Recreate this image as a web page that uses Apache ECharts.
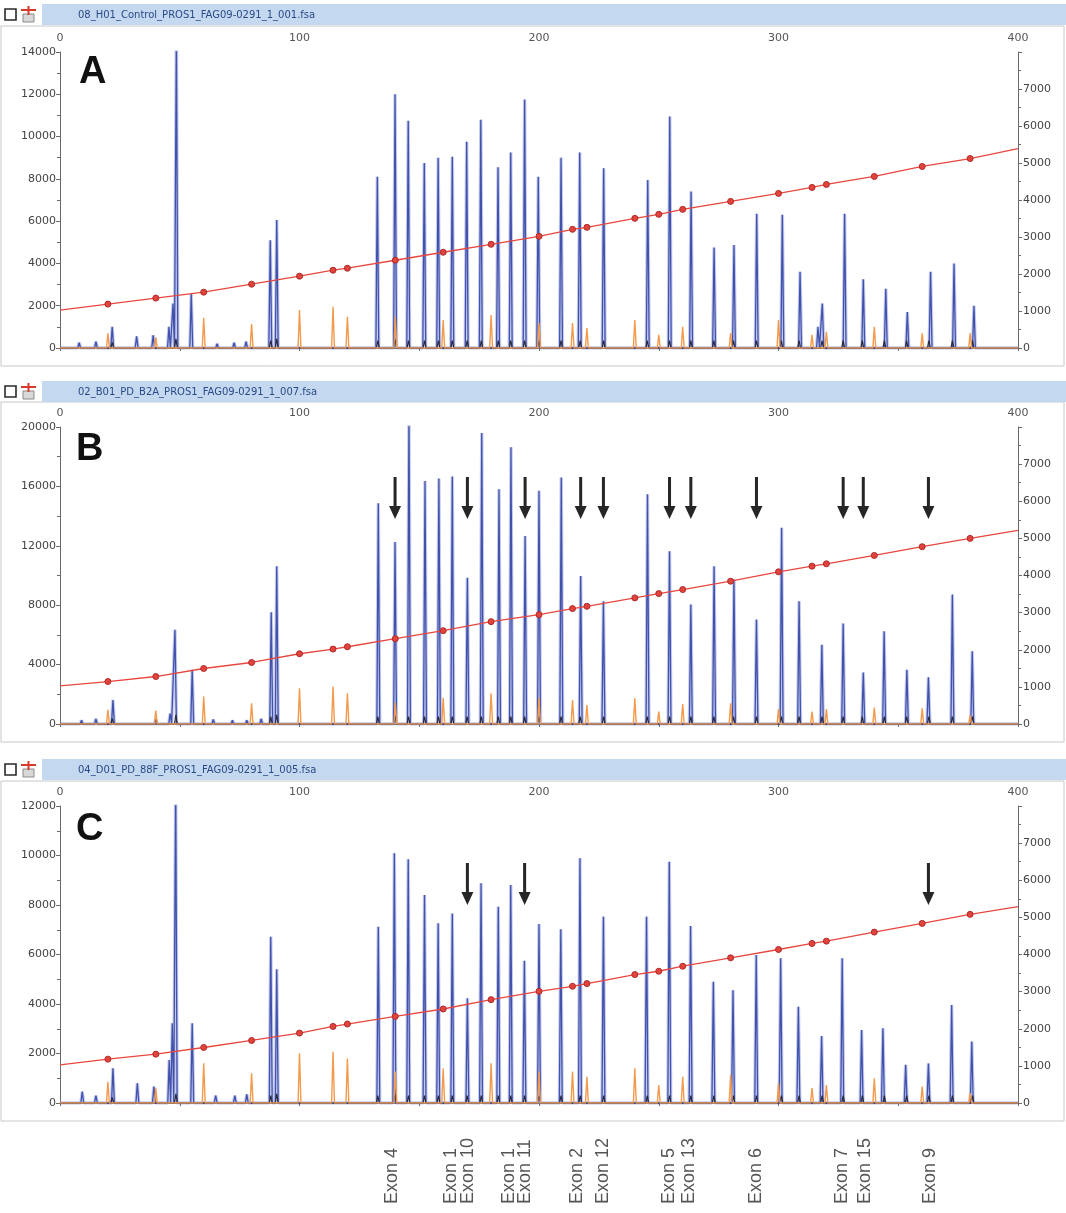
<!DOCTYPE html>
<html>
<head>
<meta charset="utf-8">
<title>PROS1 MLPA electropherograms</title>
<script src="https://cdn.jsdelivr.net/npm/echarts@6/dist/echarts.min.js"></script>
<style>
  html, body { margin: 0; padding: 0; background: #ffffff; }
  #main { width: 1066px; height: 1213px; }
</style>
</head>
<body>
<div id="main"></div>
<script>
// ---- data ----
// blue trace peaks: [size position, height on left axis]
var blueA = [[8,250],[15,300],[21.8,1000],[32,550],[38.9,600],[45.5,1000],[47.2,2100],[48.6,15000],[54.8,2550],[65.6,200],[72.7,250],[77.7,300],[87.8,5100],[90.5,6050],
  [132.5,8100],[139.9,12000],[145.4,10750],[152.1,8750],[157.9,9000],[163.8,9050],[169.8,9750],[175.7,10800],[182.9,8550],[188.2,9250],[194.0,11750],[199.7,8100],
  [209.2,9000],[217.0,9250],[227.0,8500],[245.4,7950],[254.6,10950],[263.5,7400],[273.1,4750],[281.4,4870],[290.9,6350],[301.6,6300],[309.0,3600],[316.5,1000],
  [318.3,2100],[327.6,6350],[335.4,3250],[344.8,2800],[353.8,1700],[363.5,3600],[373.3,4000],[381.6,2000]];
var blueB = [[9,250],[15,350],[22.1,1620],[40,300],[46,700],[48.0,6350],[55.2,3650],[64,300],[72,250],[78,250],[84,350],[88.2,7520],[90.5,10630],
  [132.9,14870],[139.9,12250],[145.7,21000],[152.4,16370],[158.2,16530],[163.8,16670],[170.1,9840],[176.1,19600],[183.3,15810],[188.3,18630],[194.2,12660],[200.0,15700],
  [209.3,16600],[217.4,9960],[226.9,8270],[245.3,15470],[254.5,11640],[263.4,8040],[273.1,10630],[281.4,9730],[290.8,7030],[301.3,13220],[308.6,8270],[318.1,5340],
  [327.0,6760],[335.4,3470],[344.1,6240],[353.6,3650],[362.6,3150],[372.6,8720],[380.9,4890]];
var blueC = [[9.3,460],[15,300],[22.1,1400],[32.3,800],[39.2,660],[45.6,1740],[46.9,3220],[48.3,13000],[55.2,3220],[65,300],[73,300],[78,350],[88.0,6720],[90.5,5400],
  [132.9,7120],[139.6,10090],[145.4,9850],[152.2,8400],[157.9,7260],[163.8,7660],[170.1,4230],[175.8,8880],[183.0,7930],[188.2,8810],[193.9,5750],[200.0,7230],
  [209.1,7020],[217.1,9890],[226.9,7530],[244.9,7530],[254.4,9750],[263.3,7150],[272.8,4900],[281.0,4560],[290.7,5980],[300.9,5850],[308.3,3890],[318.0,2710],
  [326.6,5850],[334.7,2950],[343.6,3020],[353.1,1540],[362.6,1600],[372.3,3960],[380.7,2480]];

// orange (size standard) peaks: [position, height on left axis]
var orangeA = [[20,700],[40,500],[60,1420],[80,1130],[100,1800],[114,1950],[120,1480],[140,1480],[160,1320],[180,1560],[200,1180],[214,1180],[220,940],
  [240,1320],[250,620],[260,1000],[280,710],[300,1320],[314,620],[320,770],[340,1000],[360,700],[380,700]];
var orangeB = [[20,950],[40,900],[60,1850],[80,1400],[100,2410],[114,2520],[120,2070],[140,1420],[160,1760],[180,2070],[200,1760],[214,1620],[220,1280],
  [240,1730],[250,830],[260,1350],[280,1400],[300,1000],[314,830],[320,1000],[340,1100],[360,1050],[380,600]];
var orangeC = [[20,860],[40,600],[60,1600],[80,1200],[100,2010],[114,2070],[120,1800],[140,1270],[160,1400],[180,1600],[200,1270],[214,1270],[220,1060],
  [240,1400],[250,730],[260,1060],[280,1130],[300,800],[314,600],[320,730],[340,1000],[360,660],[380,400]];

// red sizing curve, right axis: [position, value]
var sizingA = [[0,1024],[20,1186],[40,1348],[60,1509],[80,1725],[100,1941],[114,2102],[120,2156],[140,2372],[160,2588],[180,2803],[200,3019],[214,3208],
  [220,3261],[240,3504],[250,3612],[260,3747],[280,3962],[300,4178],[314,4340],[320,4420],[340,4636],[360,4906],[380,5121],[400,5390]];
var sizingB = [[0,1027],[20,1144],[40,1279],[60,1495],[80,1657],[100,1892],[114,2018],[120,2081],[140,2297],[160,2514],[180,2757],[200,2946],[214,3108],
  [220,3170],[240,3397],[250,3513],[260,3622],[280,3847],[300,4099],[314,4252],[320,4315],[340,4540],[360,4775],[380,5000],[400,5216]];
var sizingC = [[0,1027],[20,1181],[40,1316],[60,1495],[80,1684],[100,1883],[114,2062],[120,2127],[140,2333],[160,2532],[180,2784],[200,3008],[214,3144],
  [220,3216],[240,3459],[250,3549],[260,3684],[280,3910],[300,4135],[314,4297],[320,4360],[340,4603],[360,4838],[380,5081],[400,5289]];

// little dark bumps at the foot of the probe peaks (right axis)
var darkBumps = [[21.8,150],[48.4,250],[88,200],[90.5,250],[132.7,200],[139.9,250],[145.5,200],[152.2,200],[158,200],[163.8,200],[170,200],[175.9,200],
  [183,200],[188.2,200],[194,200],[200,200],[209.2,200],[217.2,200],[227,200],[245.2,200],[254.5,200],[263.4,200],[273,200],[281.2,200],[290.8,200],
  [301.2,200],[308.6,200],[318.2,200],[327,200],[335,200],[344.2,200],[353.5,200],[362.8,200],[372.6,200],[381,200]];

var leftMax = [14000, 20000, 12000];
var leftStep = [2000, 4000, 2000];
var fileNames = ['08_H01_Control_PROS1_FAG09-0291_1_001.fsa', '02_B01_PD_B2A_PROS1_FAG09-0291_1_007.fsa', '04_D01_PD_88F_PROS1_FAG09-0291_1_005.fsa'];
var panelLetters = ['A', 'B', 'C'];

// arrow positions (tip value on the left axis)
var arrowsB = [139.9, 170.1, 194.2, 217.4, 226.9, 254.5, 263.4, 290.8, 327.0, 335.4, 362.6];
var arrowTipB = 13800;
var arrowsC = [170.1, 194.0, 362.6];
var arrowTipC = 8000;

var exonNames = ['Exon 4', 'Exon 1', 'Exon 10', 'Exon 1', 'Exon 11', 'Exon 2', 'Exon 12', 'Exon 5', 'Exon 13', 'Exon 6', 'Exon 7', 'Exon 15', 'Exon 9'];
var exonPos = [138.8, 163.3, 170.3, 187.4, 194.2, 215.9, 226.8, 254.3, 262.8, 290.6, 326.5, 336.0, 363.2];

// ---- layout ----
var gridTop = [52, 427, 806];
var gridH = [296, 297, 297];
var headerTop = [4, 381, 759];
var boxTop = [26, 402, 781];
var boxBottom = [366, 742, 1121];
var letterBase = [92, 469, 849];

var chart = echarts.init(document.getElementById('main'));

function peakLine(peaks) {
    // baseline at 0 with a narrow spike at each peak
    var w = 0.6;
    var list = peaks.slice().sort(function (a, b) { return a[0] - b[0]; });
    var out = [[0, 0]];
    for (var i = 0; i < list.length; i++) {
        out.push([list[i][0] - w, 0]);
        out.push([list[i][0], list[i][1]]);
        out.push([list[i][0] + w, 0]);
    }
    out.push([400, 0]);
    return out;
}

function sizingData(list) {
    var out = [];
    for (var i = 0; i < list.length; i++) {
        var end = (i === 0 || i === list.length - 1);
        out.push(end ? { value: list[i], symbol: 'none' } : { value: list[i] });
    }
    return out;
}

function plain(v) { return String(v); }

var labelFont = 'DejaVu Sans';
var grids = [], xAxes = [], yAxes = [], series = [], graphics = [];
var blues = [blueA, blueB, blueC];
var oranges = [orangeA, orangeB, orangeC];
var sizings = [sizingA, sizingB, sizingC];
var arrowPath = 'path://M4.5,0 L7.5,0 L7.5,29 L12,29 L6,42 L0,29 L4.5,29 Z';

for (let i = 0; i < 3; i++) {
    grids.push({ left: 60, right: 48, top: gridTop[i], height: gridH[i] });

    xAxes.push({
        gridIndex: i, type: 'value', position: 'top', min: 0, max: 400, interval: 50,
        axisLine: { show: true, lineStyle: { color: '#6a6a6a', width: 1 } },
        axisTick: { show: true, inside: true, length: 3, lineStyle: { color: '#6a6a6a' } },
        axisLabel: {
            color: '#555', fontSize: 11, fontFamily: labelFont, margin: 8,
            formatter: function (v) { return v % 100 === 0 ? String(v) : ''; }
        },
        splitLine: { show: false }
    });

    yAxes.push({
        gridIndex: i, type: 'value', position: 'left', min: 0, max: leftMax[i], interval: leftStep[i],
        axisLine: { show: true, lineStyle: { color: '#6a6a6a' } },
        axisTick: { show: true, length: 4, lineStyle: { color: '#6a6a6a' } },
        minorTick: { show: true, splitNumber: 2, length: 3, lineStyle: { color: '#6a6a6a' } },
        axisLabel: { color: '#444', fontSize: 11, fontFamily: labelFont, margin: 4, formatter: plain },
        splitLine: { show: false }
    });
    yAxes.push({
        gridIndex: i, type: 'value', position: 'right', min: 0, max: 8000, interval: 1000,
        axisLine: { show: true, lineStyle: { color: '#6a6a6a' } },
        axisTick: { show: true, length: 4, lineStyle: { color: '#6a6a6a' } },
        minorTick: { show: true, splitNumber: 2, length: 3, lineStyle: { color: '#6a6a6a' } },
        axisLabel: { color: '#444', fontSize: 11, fontFamily: labelFont, margin: 5, showMaxLabel: false, formatter: plain },
        splitLine: { show: false }
    });

    // soft halo under the blue trace, the peaks in the scan look smeared
    series.push({
        type: 'line', xAxisIndex: i, yAxisIndex: 2 * i, data: peakLine(blues[i]),
        showSymbol: false, symbol: 'none', clip: true, z: 2, silent: true,
        lineStyle: { color: 'rgba(125,140,215,0.45)', width: 3.4 }
    });

    var blueSerie = {
        type: 'line', xAxisIndex: i, yAxisIndex: 2 * i, data: peakLine(blues[i]),
        showSymbol: false, symbol: 'none', clip: true, z: 3,
        lineStyle: { color: '#4251ab', width: 1.3 }
    };
    var arrows = i === 1 ? arrowsB : (i === 2 ? arrowsC : null);
    if (arrows) {
        var tip = i === 1 ? arrowTipB : arrowTipC;
        blueSerie.markPoint = {
            silent: true, symbol: arrowPath, symbolSize: [12, 42], symbolKeepAspect: false,
            symbolOffset: [0, '-50%'], itemStyle: { color: '#262626' }, label: { show: false },
            data: arrows.map(function (p) { return { coord: [p, tip] }; })
        };
    }
    series.push(blueSerie);

    series.push({
        type: 'line', xAxisIndex: i, yAxisIndex: 2 * i + 1, data: peakLine(darkBumps),
        showSymbol: false, symbol: 'none', clip: true, z: 4,
        lineStyle: { color: '#2a2a3a', width: 1.2 }
    });

    series.push({
        type: 'line', xAxisIndex: i, yAxisIndex: 2 * i, data: peakLine(oranges[i]),
        showSymbol: false, symbol: 'none', clip: true, z: 5,
        lineStyle: { color: '#f39a4c', width: 1.4 }
    });

    series.push({
        type: 'line', xAxisIndex: i, yAxisIndex: 2 * i + 1, data: sizingData(sizings[i]),
        symbol: 'circle', symbolSize: 6, showSymbol: true, clip: true, z: 6,
        lineStyle: { color: '#e8473f', width: 1.3 },
        itemStyle: { color: '#e0443c', borderColor: '#b02a2a', borderWidth: 1 }
    });

    // panel frame, header bar, icons, file name, letter
    graphics.push({ id: 'box' + i, type: 'rect', z: -10, silent: true,
        shape: { x: 1, y: boxTop[i], width: 1063, height: boxBottom[i] - boxTop[i] },
        style: { fill: '#ffffff', stroke: '#c4c8cc', lineWidth: 1 } });
    graphics.push({ id: 'hdr' + i, type: 'rect', z: -10, silent: true,
        shape: { x: 42, y: headerTop[i], width: 1024, height: 21 },
        style: { fill: '#c4d9f0' } });
    graphics.push({ id: 'chk' + i, type: 'rect', z: 10, silent: true,
        shape: { x: 5, y: headerTop[i] + 5, width: 11, height: 11 },
        style: { fill: '#ffffff', stroke: '#2a2a2a', lineWidth: 1.6 } });
    graphics.push({ id: 'ico' + i, type: 'rect', z: 10, silent: true,
        shape: { x: 23, y: headerTop[i] + 10, width: 11, height: 8 },
        style: { fill: '#d8d8d8', stroke: '#8a8a8a', lineWidth: 1 } });
    graphics.push({ id: 'icr' + i, type: 'polyline', z: 11, silent: true,
        shape: { points: [[21, headerTop[i] + 6], [36, headerTop[i] + 6]] },
        style: { stroke: '#d83a2a', lineWidth: 2 } });
    graphics.push({ id: 'icv' + i, type: 'polyline', z: 11, silent: true,
        shape: { points: [[28.5, headerTop[i] + 2], [28.5, headerTop[i] + 11]] },
        style: { stroke: '#d83a2a', lineWidth: 2 } });
    graphics.push({ id: 'fn' + i, type: 'text', z: 10, silent: true,
        x: 78, y: headerTop[i] + 11,
        style: { text: fileNames[i], fill: '#2a4a86', font: '10px "DejaVu Sans"', textVerticalAlign: 'middle' } });
    graphics.push({ id: 'let' + i, type: 'text', z: 20, silent: true,
        x: i === 0 ? 79 : 76, y: letterBase[i],
        style: { text: panelLetters[i], fill: '#111111', font: 'bold 38px "Liberation Sans", Arial, sans-serif', textVerticalAlign: 'bottom' } });
}

var option = {
    animation: false,
    backgroundColor: '#ffffff',
    grid: grids,
    xAxis: xAxes,
    yAxis: yAxes,
    series: series,
    graphic: { elements: graphics }
};
chart.setOption(option);

// exon labels under the last panel, placed through the x axis of panel C
var exonEls = [];
for (let k = 0; k < exonNames.length; k++) {
    var px = chart.convertToPixel({ xAxisIndex: 2 }, exonPos[k]);
    exonEls.push({ id: 'exon' + k, type: 'text', silent: true, z: 10,
        x: px, y: 1204, rotation: Math.PI / 2,
        style: { text: exonNames[k], fill: '#555555', font: '18px "Liberation Sans", Arial, sans-serif',
            textAlign: 'left', textVerticalAlign: 'middle' } });
}
chart.setOption({ graphic: { elements: exonEls } });
</script>
</body>
</html>
